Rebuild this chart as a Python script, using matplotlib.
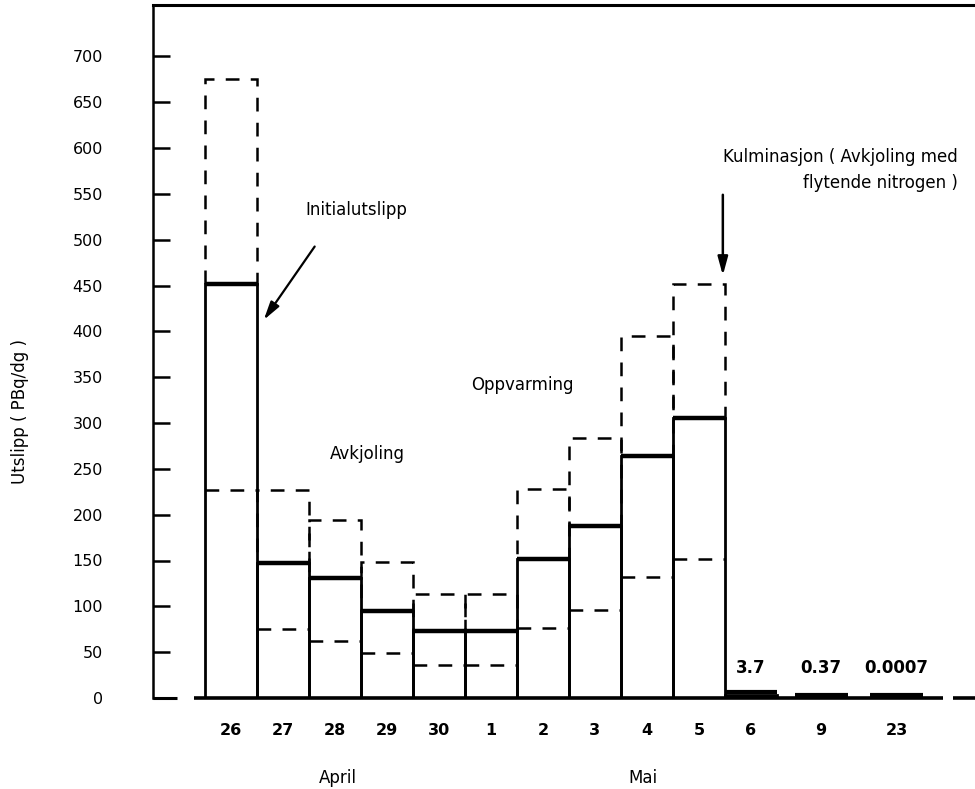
import matplotlib
matplotlib.use("Agg")
import matplotlib.pyplot as plt
import numpy as np

plt.rcParams['font.family'] = ['DejaVu Sans']

# ---- data ----
days = ["26", "27", "28", "29", "30", "1", "2", "3", "4", "5"]
central = [452, 147, 131, 95, 73, 73, 152, 188, 264, 305]
upper = [675, 227, 194, 148, 113, 113, 228, 284, 395, 452]
lower = [227, 75, 62, 49, 36, 36, 76, 96, 132, 152]

late_days = ["6", "9", "23"]
late_values = [3.7, 0.37, 0.0007]
late_labels = ["3.7", "0.37", "0.0007"]

yticks = list(range(0, 701, 50))

# ---- layout positions (category slots) ----
main_x = np.arange(len(days)) + 0.5
late_x = np.array([10.5, 11.85, 13.3])
late_w = [1.0, 1.02, 1.02]

fig = plt.figure(figsize=(9.75, 7.89), dpi=100)
ax = fig.add_axes([153 / 975, 1 - 698 / 789, 1 - 153 / 975, 693 / 789])
ax.set_xlim(-1.0, 14.81)
ax.set_ylim(0, 756)

dash = (0, (5.5, 4.5))
# upper dashed boxes
ax.bar(main_x, np.array(upper) - np.array(central), bottom=central, width=1.0,
       fill=False, edgecolor='black', linewidth=1.8, linestyle=dash)
# solid bars
ax.bar(main_x, central, width=1.0, fill=False, edgecolor='black', linewidth=2.0)
# thick tops
ax.hlines(central, main_x - 0.5, main_x + 0.5, colors='black', linewidth=3.2)
# lower dashed lines
ax.hlines(lower, main_x - 0.5, main_x + 0.5, colors='black', linewidth=1.8,
          linestyles=dash)

# late small bars (drawn as thick strips just above the baseline)
ax.bar(late_x, late_values, width=late_w, color='black', edgecolor='black', linewidth=2.0)
ax.hlines(np.array(late_values) + 3, late_x - np.array(late_w) / 2,
          late_x + np.array(late_w) / 2, colors='black', linewidth=3.0)
for x, lab in zip(late_x, late_labels):
    ax.annotate(lab, (x, 0), xytext=(0, 15), textcoords='offset points',
                ha='center', va='bottom', fontsize=12, fontweight='bold')

# baseline (with the small breaks of the original)
ax.plot([-1.0, -0.54], [0, 0], color='black', lw=2.2, clip_on=False, solid_capstyle='butt')
ax.plot([-0.21, 14.19], [0, 0], color='black', lw=2.6, clip_on=False, solid_capstyle='butt')
ax.plot([14.38, 14.81], [0, 0], color='black', lw=2.6, clip_on=False, solid_capstyle='butt')

# spines
for s in ['right', 'bottom']:
    ax.spines[s].set_visible(False)
ax.spines['left'].set_linewidth(1.8)
ax.spines['top'].set_linewidth(2.2)

ax.set_yticks(yticks)
ax.set_yticklabels([str(v) for v in yticks], fontsize=11.5)
ax.tick_params(axis='y', direction='in', length=12, width=1.8, pad=36)

ax.set_xticks(list(main_x) + list(late_x))
ax.set_xticklabels(days + late_days, fontsize=11.5, fontweight='bold')
ax.tick_params(axis='x', length=0, pad=18)

# annotations
ax.text(2.92, 532, "Initialutslipp", ha='center', va='center', fontsize=12)
ax.annotate("", xy=(1.10, 410), xytext=(2.14, 495),
            arrowprops=dict(arrowstyle='-|>,head_length=1.1,head_width=0.3',
                            color='black', lw=1.6))
ax.text(3.13, 266, "Avkjoling", ha='center', va='center', fontsize=12)
ax.text(6.1, 342, "Oppvarming", ha='center', va='center', fontsize=12)
ax.text(14.48, 590, "Kulminasjon ( Avkjoling med", ha='right', va='center', fontsize=12)
ax.text(14.48, 562, "flytende nitrogen )", ha='right', va='center', fontsize=12)
ax.annotate("", xy=(9.96, 458), xytext=(9.96, 552),
            arrowprops=dict(arrowstyle='-|>,head_length=1.1,head_width=0.3',
                            color='black', lw=1.8))

fig.text(338 / 975, 1 - 778 / 789, "April", ha='center', va='center', fontsize=12)
fig.text(643 / 975, 1 - 778 / 789, "Mai", ha='center', va='center', fontsize=12)
fig.text(20 / 975, 1 - 411 / 789, "Utslipp ( PBq/dg )", ha='center', va='center',
         rotation=90, fontsize=12)

fig.savefig("out.png", dpi=100)
